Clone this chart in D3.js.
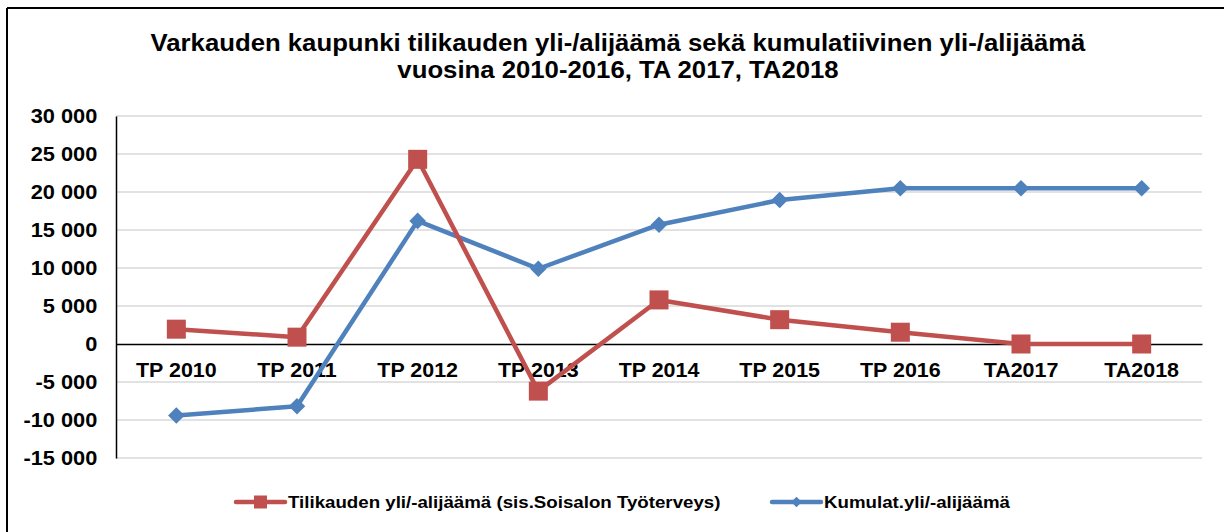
<!DOCTYPE html>
<html lang="fi">
  <head>
    <meta charset="UTF-8" />
    <title>Varkauden kaupunki yli-/alijäämä</title>
    <style>
      body { margin: 0; background: #fff; }
      svg text { font-family: 'Liberation Sans', Arial, sans-serif; font-weight: bold; fill: #000; }
      .grid line { stroke: #d9d9d9; stroke-width: 1.5; }
    </style>
  </head>
  <body>
    <svg width="1224" height="532"></svg>
    <script src="https://d3js.org/d3.v7.min.js"></script>
    <script>
      const categories = ['TP 2010', 'TP 2011', 'TP 2012', 'TP 2013', 'TP 2014', 'TP 2015', 'TP 2016', 'TA2017', 'TA2018'];
      const tilikausi = [1950, 900, 24300, -6200, 5800, 3200, 1550, 0, 0];
      const kumulat = [-9400, -8200, 16200, 9900, 15700, 18950, 20500, 20500, 20500];
      const yTicks = [30000, 25000, 20000, 15000, 10000, 5000, 0, -5000, -10000, -15000];
      const titleLines = [
        'Varkauden kaupunki tilikauden yli-/alijäämä sekä kumulatiivinen yli-/alijäämä',
        'vuosina 2010-2016, TA 2017, TA2018'
      ];
      const seriesNames = ['Tilikauden yli/-alijäämä (sis.Soisalon Työterveys)', 'Kumulat.yli/-alijäämä'];

      const svg = d3.select('svg');
      const red = '#c0504d', blue = '#4f81bd';
      const stretch = 'scale(1.1,1)'; // the original text is a little wider than Arial

      // frame (only top and left edges are visible in the crop)
      svg.append('line').attr('x1', 7).attr('x2', 1224).attr('y1', 8).attr('y2', 8)
        .attr('stroke', '#000').attr('stroke-width', 2);
      svg.append('line').attr('x1', 7).attr('x2', 7).attr('y1', 8).attr('y2', 532)
        .attr('stroke', '#000').attr('stroke-width', 2);

      svg.selectAll('.title').data(titleLines).enter().append('g')
        .attr('class', 'title')
        .attr('transform', (d, i) => `translate(618,${51 + i * 27})`)
        .append('text')
        .attr('transform', stretch)
        .attr('text-anchor', 'middle')
        .style('font-size', '23.4px')
        .text(d => d);

      const x = d3.scaleBand().domain(categories).range([116, 1202]);
      const y = d3.scaleLinear().domain([-15000, 30000]).range([458, 116]);
      const fmt = v => d3.format(',')(v).replace(/,/g, ' ').replace('−', '-');

      svg.append('g').attr('class', 'grid')
        .selectAll('line').data(yTicks.filter(d => d !== 0)).enter().append('line')
        .attr('x1', 116).attr('x2', 1202)
        .attr('y1', d => y(d)).attr('y2', d => y(d));

      svg.append('g').attr('transform', 'translate(116,0)')
        .call(d3.axisLeft(y).tickValues(yTicks).tickSize(0).tickPadding(17).tickFormat(fmt))
        .call(g => g.select('.domain').attr('stroke', '#000').attr('stroke-width', 1.5))
        .selectAll('text').attr('transform', stretch).style('font-size', '19.8px');

      svg.append('g').attr('transform', `translate(0,${y(0)})`)
        .call(d3.axisBottom(x).tickSize(0).tickPadding(19))
        .call(g => g.select('.domain').attr('stroke', '#000').attr('stroke-width', 1.5))
        .selectAll('text').attr('transform', stretch).style('font-size', '19.5px');

      const cx = d => x(d) + x.bandwidth() / 2;
      const line = d3.line().x((d, i) => cx(categories[i])).y(d => y(d));

      svg.append('path').datum(kumulat).attr('d', line)
        .attr('fill', 'none').attr('stroke', blue).attr('stroke-width', 4.5).attr('stroke-linejoin', 'round');
      svg.selectAll('.dia').data(kumulat).enter().append('path')
        .attr('class', 'dia')
        .attr('d', d3.symbol(d3.symbolDiamond2, 175)())
        .attr('transform', (d, i) => `translate(${cx(categories[i])},${y(d)})`)
        .attr('fill', blue);

      svg.append('path').datum(tilikausi).attr('d', line)
        .attr('fill', 'none').attr('stroke', red).attr('stroke-width', 4.5).attr('stroke-linejoin', 'round');
      svg.selectAll('.sq').data(tilikausi).enter().append('rect')
        .attr('class', 'sq')
        .attr('x', (d, i) => cx(categories[i]) - 9.5).attr('y', d => y(d) - 9.5)
        .attr('width', 19).attr('height', 19)
        .attr('fill', red);

      // legend
      const legend = [
        { name: seriesNames[0], color: red, x: 236, shape: 'sq' },
        { name: seriesNames[1], color: blue, x: 772, shape: 'dia' }
      ];
      const lg = svg.selectAll('.lg').data(legend).enter().append('g')
        .attr('transform', d => `translate(${d.x},502)`);
      lg.append('line').attr('x1', 0).attr('x2', 49).attr('stroke', d => d.color)
        .attr('stroke-width', 4.5).attr('stroke-linecap', 'round');
      lg.filter(d => d.shape === 'sq').append('rect')
        .attr('x', 18).attr('y', -6.5).attr('width', 13).attr('height', 13).attr('fill', red);
      lg.filter(d => d.shape === 'dia').append('path')
        .attr('d', d3.symbol(d3.symbolDiamond2, 70)())
        .attr('transform', 'translate(24.5,0)').attr('fill', blue);
      lg.append('g').attr('transform', 'translate(52,6)')
        .append('text').attr('transform', stretch).style('font-size', '17px').text(d => d.name);
    </script>
  </body>
</html>
